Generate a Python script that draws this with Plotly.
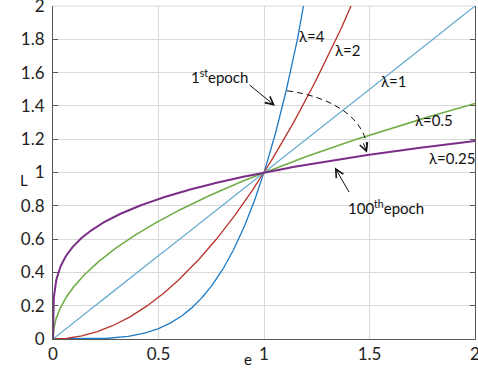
import numpy as np
import plotly.graph_objects as go

# Data
lambdas = [4, 2, 1, 0.5, 0.25]
labels = ["λ=4", "λ=2", "λ=1", "λ=0.5", "λ=0.25"]
colors = ["#1f7bc4", "#b8332b", "#6aadd0", "#70ad47", "#7b2e87"]
widths = [1.3, 1.3, 1.3, 1.6, 2.0]
label_x = [1.227, 1.398, 1.616, 1.806, 1.891]
label_y = [1.820, 1.737, 1.551, 1.317, 1.090]
x_ticks = [0, 0.5, 1, 1.5, 2]
x_ticktext = ["0", "0.5", "1", "1.5", "2"]
y_ticks = [0, 0.2, 0.4, 0.6, 0.8, 1, 1.2, 1.4, 1.6, 1.8, 2]
y_ticktext = ["0", "0.2", "0.4", "0.6", "0.8", "1", "1.2", "1.4", "1.6", "1.8", "2"]

e = np.linspace(0, 2, 801)
e = np.concatenate([np.linspace(0, 0.01, 200), e[e > 0.01]])

FONT = "Lato, 'Open Sans', sans-serif"
fig = go.Figure()
for lam, c, w in zip(lambdas, colors, widths):
    fig.add_trace(go.Scatter(x=e, y=e ** lam, mode="lines",
                             line=dict(color=c, width=w), showlegend=False,
                             hoverinfo="skip", cliponaxis=True))

annots = []
for t, lx, ly in zip(labels, label_x, label_y):
    annots.append(dict(x=lx, y=ly, text=t, showarrow=False,
                       font=dict(size=15, color="#111")))

annots += [
    dict(x=0.791, y=1.575, text="1<sup>st</sup>epoch", showarrow=False,
         font=dict(size=15, color="#111")),
    dict(x=1.052, y=1.401, text="", showarrow=True, arrowhead=5, arrowsize=1.6,
         arrowwidth=1, arrowcolor="#111", ax=-27, ay=-22),
    dict(x=1.578, y=0.790, text="100<sup>th</sup>epoch", showarrow=False,
         font=dict(size=15, color="#111")),
    dict(x=1.336, y=1.030, text="", showarrow=True, arrowhead=5, arrowsize=1.6,
         arrowwidth=1, arrowcolor="#111", ax=15, ay=26),
    dict(x=1.488, y=1.118, text="", showarrow=True, arrowhead=5, arrowsize=1.6,
         arrowwidth=1, arrowcolor="#111", ax=-4, ay=-11),
    dict(x=-0.083, y=0.477, xref="paper", yref="paper", text="L",
         showarrow=False, font=dict(size=15, color="#111")),
    dict(x=0.462, y=-0.093, xref="paper", yref="paper", text="e",
         showarrow=False, font=dict(size=15, color="#111")),
]

shapes = [
    dict(type="path", path="M 1.109,1.491 C 1.35,1.45 1.49,1.30 1.488,1.13",
         line=dict(color="#111", width=1, dash="6px,4px")),
    dict(type="line", xref="paper", yref="paper", x0=0, x1=1, y0=1, y1=1,
         line=dict(color="#d9d9d9", width=1), layer="below"),
]

fig.update_layout(
    width=478, height=377,
    margin=dict(l=53, r=3, t=6, b=38, autoexpand=False),
    plot_bgcolor="white", paper_bgcolor="white",
    font=dict(family=FONT, size=17, color="#222"),
    annotations=annots, shapes=shapes,
    xaxis=dict(range=[0, 2], tickvals=x_ticks, ticktext=x_ticktext,
               showgrid=True, gridcolor="#d9d9d9", gridwidth=1,
               showline=True, linecolor="#595959", linewidth=1,
               ticks="", zeroline=False, tickfont=dict(size=17),
               automargin=False, ticklabeloverflow="allow"),
    yaxis=dict(range=[0, 2], tickvals=y_ticks, ticktext=y_ticktext,
               showgrid=True, gridcolor="#d9d9d9", gridwidth=1,
               showline=True, linecolor="#595959", linewidth=1,
               ticks="inside", ticklen=5, tickcolor="#595959",
               mirror="ticks", zeroline=False, tickfont=dict(size=17),
               ticklabelstandoff=4, automargin=False,
               ticklabeloverflow="allow"),
)

fig.write_html("out.html", post_script="document.body.style.margin='0';",
               config={"displayModeBar": False})
